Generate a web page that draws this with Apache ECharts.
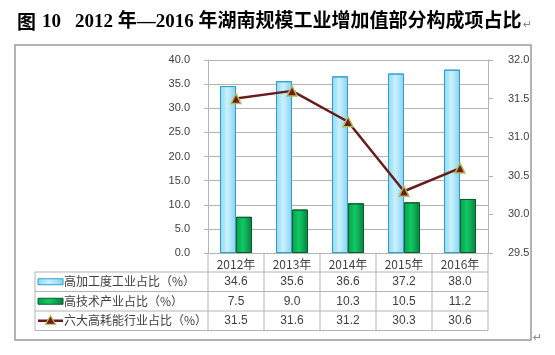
<!DOCTYPE html>
<html><head><meta charset="utf-8">
<script src="https://cdn.jsdelivr.net/npm/echarts@6/dist/echarts.min.js"></script>
<style>html,body{margin:0;padding:0;background:#fff}#c{width:555px;height:355px}</style>
</head><body><div id="c"></div>
<script>
const years = ['2012年','2013年','2014年','2015年','2016年'];
const seriesNames = ['高加工度工业占比（%）','高技术产业占比（%）','六大高耗能行业占比（%）'];
const highProcessing = [34.6, 35.6, 36.6, 37.2, 38.0];
const highTech = [7.5, 9.0, 10.3, 10.5, 11.2];
const energyIntensive = [31.5, 31.6, 31.2, 30.3, 30.6];
const leftAxis = {min: 0, max: 40, interval: 5};
const rightAxis = {min: 29.5, max: 32, interval: 0.5};

const chart = echarts.init(document.getElementById('c'), null, {renderer: 'canvas'});
const numFont = 'Liberation Sans, Arial, sans-serif';
const cjkFont = 'Noto Sans CJK SC, sans-serif';
const gridCol = '#b4b4b4';
const textCol = '#404040';

const blueFill = {type: 'linear', x: 0, y: 0, x2: 1, y2: 0, colorStops: [
  {offset: 0, color: '#8fd8f2'}, {offset: 0.45, color: '#c9f1fd'}, {offset: 1, color: '#86d2ef'}]};
const greenFill = {type: 'linear', x: 0, y: 0, x2: 1, y2: 0, colorStops: [
  {offset: 0, color: '#00a448'}, {offset: 0.45, color: '#12c865'}, {offset: 1, color: '#04803a'}]};

chart.setOption({
  animation: false,
  grid: {left: 208, right: 67, top: 60, bottom: 102, containLabel: false},
  xAxis: {
    type: 'category', data: years,
    axisLine: {lineStyle: {color: gridCol}},
    axisTick: {show: false},
    axisLabel: {color: textCol, fontFamily: cjkFont, fontSize: 12, margin: 5}
  },
  yAxis: [{
    type: 'value', min: leftAxis.min, max: leftAxis.max, interval: leftAxis.interval,
    axisLine: {show: true, lineStyle: {color: gridCol}},
    axisTick: {show: true, length: 4, lineStyle: {color: gridCol}},
    splitLine: {lineStyle: {color: gridCol}},
    axisLabel: {color: textCol, fontFamily: numFont, fontSize: 11, margin: 18,
      formatter: v => v.toFixed(1)}
  }, {
    type: 'value', min: rightAxis.min, max: rightAxis.max, interval: rightAxis.interval,
    position: 'right',
    axisLine: {show: true, lineStyle: {color: gridCol}},
    axisTick: {show: true, length: 5, lineStyle: {color: gridCol}},
    splitLine: {show: false},
    axisLabel: {color: textCol, fontFamily: numFont, fontSize: 11, margin: 20,
      formatter: v => v.toFixed(1)}
  }],
  series: [{
    name: seriesNames[0], type: 'bar', data: highProcessing, barWidth: 16, barGap: '0%',
    itemStyle: {color: blueFill, borderColor: '#2f9fcf', borderWidth: 1}
  }, {
    name: seriesNames[1], type: 'bar', data: highTech, barWidth: 16, barGap: '0%',
    itemStyle: {color: greenFill, borderColor: '#0b5c2c', borderWidth: 1}
  }, {
    name: seriesNames[2], type: 'line', yAxisIndex: 1, data: energyIntensive,
    symbol: 'triangle', symbolSize: 10,
    lineStyle: {color: '#6a1b1b', width: 2.5},
    itemStyle: {color: '#7a1818', borderColor: '#a8c060', borderWidth: 1.5}
  }]
});

// Data table + frame, positioned from the chart's own axes
const cx = years.map((_, i) => chart.convertToPixel({xAxisIndex: 0}, i));
const step = cx[1] - cx[0];
const xL = cx[0] - step / 2, xR = cx[cx.length - 1] + step / 2;
const yB = chart.convertToPixel({yAxisIndex: 0}, leftAxis.min);
const tableLeft = 35;
const rowYs = [yB + 19, yB + 38.5, yB + 58, yB + 77.5];
const lineStyle = {stroke: gridCol, lineWidth: 1};
const g = [];
rowYs.forEach(y => g.push({type: 'line', shape: {x1: tableLeft, y1: y, x2: xR, y2: y}, style: lineStyle, silent: true}));
g.push({type: 'line', shape: {x1: tableLeft, y1: rowYs[0], x2: tableLeft, y2: rowYs[3]}, style: lineStyle});
for (let i = 0; i <= years.length; i++) {
  const x = xL + i * step;
  g.push({type: 'line', shape: {x1: x, y1: yB, x2: x, y2: rowYs[3]}, style: lineStyle});
}
const rows = [highProcessing, highTech, energyIntensive];
rows.forEach((vals, r) => {
  const yc = (rowYs[r] + rowYs[r + 1]) / 2;
  vals.forEach((v, i) => g.push({type: 'text', x: cx[i], y: yc,
    style: {text: v.toFixed(1), fill: textCol, font: '12px ' + numFont, align: 'center', verticalAlign: 'middle'}}));
  g.push({type: 'text', x: 64, y: yc,
    style: {text: seriesNames[r], fill: textCol, font: '12px ' + cjkFont, align: 'left', verticalAlign: 'middle'}});
});
// legend keys
const k1 = (rowYs[0] + rowYs[1]) / 2, k2 = (rowYs[1] + rowYs[2]) / 2, k3 = (rowYs[2] + rowYs[3]) / 2;
g.push({type: 'rect', shape: {x: 38, y: k1 - 3, width: 25, height: 6}, style: {fill: blueFill, stroke: '#2f9fcf', lineWidth: 1}});
g.push({type: 'rect', shape: {x: 38, y: k2 - 3, width: 25, height: 6}, style: {fill: greenFill, stroke: '#0b5c2c', lineWidth: 1}});
g.push({type: 'line', shape: {x1: 38, y1: k3, x2: 63, y2: k3}, style: {stroke: '#6a1b1b', lineWidth: 2.5}});
g.push({type: 'polygon', shape: {points: [[50.5, k3 - 5], [55.5, k3 + 3.5], [45.5, k3 + 3.5]]}, style: {fill: '#7a1818', stroke: '#a8c060', lineWidth: 1.2}});
// outer frame
g.push({type: 'rect', shape: {x: 15, y: 45, width: 516, height: 295}, style: {fill: 'none', stroke: '#9a9a9a', lineWidth: 1.5}});
// title
const tFont = 'bold 19px Liberation Serif, Noto Sans CJK SC, serif';
g.push({type: 'text', x: 17, y: 22, style: {text: '图', font: 'bold 19px Noto Sans CJK SC', fill: '#000', verticalAlign: 'middle'}});
g.push({type: 'text', x: 42, y: 22, style: {text: '10', font: tFont, fill: '#000', verticalAlign: 'middle'}});
g.push({type: 'text', x: 75, y: 22, style: {text: '2012 年—2016 年湖南规模工业增加值部分构成项占比', font: tFont, fill: '#000', verticalAlign: 'middle'}});
g.push({type: 'text', x: 523, y: 25, style: {text: '↵', font: '11px DejaVu Sans', fill: '#888', verticalAlign: 'middle'}});
g.push({type: 'text', x: 533, y: 338, style: {text: '↵', font: '11px DejaVu Sans', fill: '#888', verticalAlign: 'middle'}});
chart.setOption({graphic: g});
</script></body></html>
